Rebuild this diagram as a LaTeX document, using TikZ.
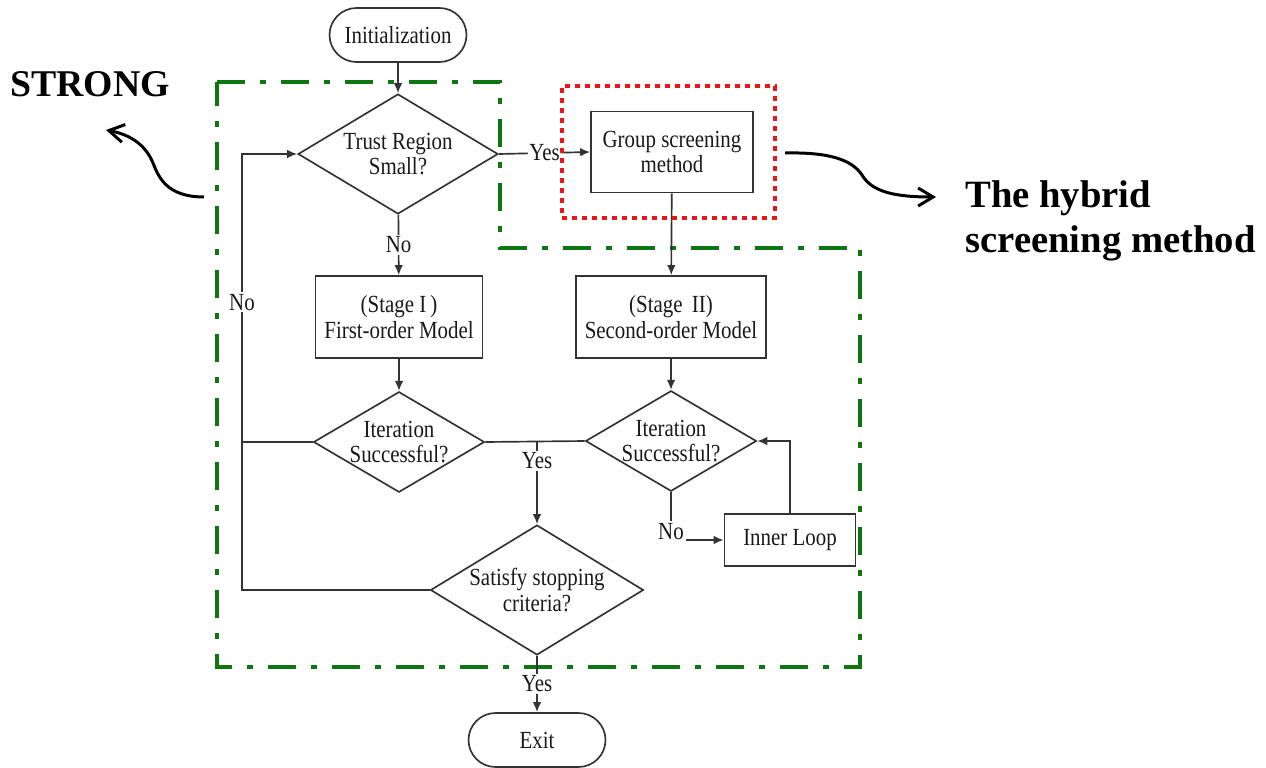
\documentclass[tikz,border=0pt]{standalone}
\usepackage{fontspec}
\setmainfont{Liberation Serif}
\newfontfamily\flowfont[FakeStretch=0.85]{Liberation Serif}
\usepackage{xcolor}
\definecolor{region}{RGB}{14,118,14}
\definecolor{hybrid}{RGB}{232,22,22}
\tikzset{
  every node/.style={
    font=\flowfont\fontsize{14}{14.7}\selectfont, text=black!90
  }
}
\usetikzlibrary{shapes.geometric}
\usetikzlibrary{shapes.misc}
\usetikzlibrary{arrows.meta}
\tikzset{
  flow/.style={draw=black!80, line width=0.95pt},
  arrow/.style={flow, -{Latex[length=2mm,width=1.7mm]}},
  process/.style={flow, rectangle, inner sep=0pt, align=center},
  terminal/.style={flow, rounded rectangle, inner sep=0pt,
    minimum width=2.74cm, minimum height=1.08cm},
  decision/.style={flow, diamond, inner sep=0pt, align=center},
  tag/.style={fill=white, inner sep=1pt},
  outline/.style={draw=region, line width=2.8pt,
    dash pattern=on 0.56cm off 0.3cm on 0.12cm off 0.3cm},
  dotbox/.style={draw=hybrid, line width=2.8pt,
    dash pattern=on 0.1cm off 0.1cm, inner sep=0pt},
  swoop/.style={black, line width=1.7pt,
    -{Straight Barb[length=3mm,width=3.6mm]}},
  callout/.style={font=\rmfamily\bfseries\fontsize{21.5}{25}\selectfont,
    text=black, inner sep=0pt, align=left}
}

\begin{document}
\begin{tikzpicture}[x=0.02cm, y=-0.02cm]
    %\draw[gray, very thin] (0,0) grid[step=50] (1266,767);
    \useasboundingbox (0,0) rectangle (1266,767);

    \draw [outline] (217,82) -- (500,82) -- (500,248) -- (860,248)
        -- (860,667) -- (217,667) -- cycle;

    \node [terminal] (init) at (398,35) {Initialization};
    \node [decision, aspect=1.67, minimum width=4cm, minimum height=2.4cm]
        (trust) at (398,154) {Trust Region\\Small?};
    \node [process, minimum width=3.24cm, minimum height=1.62cm]
        (group) at (672,152) {Group screening\\method};
    \node [process, minimum width=3.34cm, minimum height=1.64cm]
        (stage1) at (399,317) {(Stage I\,)\\First-order Model};
    \node [process, minimum width=3.8cm, minimum height=1.64cm]
        (stage2) at (671,317) {(Stage\, II)\\Second-order Model};
    \node [decision, aspect=1.7, minimum width=3.4cm, minimum height=2cm]
        (iter1) at (399,442) {Iteration\\Successful?};
    \node [decision, aspect=1.7, minimum width=3.4cm, minimum height=2cm]
        (iter2) at (671,441) {Iteration\\Successful?};
    \node [decision, aspect=1.64, minimum width=4.26cm, minimum height=2.6cm]
        (satisfy) at (537,590) {Satisfy stopping\\criteria?};
    \node [process, minimum width=2.62cm, minimum height=1.04cm]
        (inner) at (790,540) {Inner Loop};
    \node [terminal] (exit) at (537,740) {Exit};

    \coordinate (back) at (242,590);

    \draw [arrow] (init) -- (trust);
    \draw [arrow] (trust.east) -- node [tag] {Yes} (group.west);
    \draw [arrow] (trust) -- node [tag] {No} (stage1);
    \draw [arrow] (group) -- (stage2);
    \draw [arrow] (stage1) -- (iter1);
    \draw [arrow] (stage2) -- (iter2);
    \draw [flow] (iter1.east) -- (iter2.west);
    \draw [arrow] (satisfy.north |- iter1.east) -- node [tag, pos=.23] {Yes} (satisfy.north);
    \draw [flow] (iter1.west) -- (iter1.west -| back);
    \draw [arrow] (satisfy.west) -- (back) |- node [tag, pos=.33] {No} (trust.west);
    \draw [arrow] (iter2.south) |- node [tag, pos=.5, yshift=5pt] {No} (inner.west);
    \draw [arrow] (inner.north) |- (iter2.east);
    \draw [arrow] (satisfy) -- node [tag] {Yes} (exit);

    \node [dotbox, minimum width=4.26cm, minimum height=2.64cm]
        (hybridbox) at (668.5,152) {};

    \node [callout, anchor=north west] (strong) at (10,71) {STRONG};
    \node [callout, anchor=north west, font=\rmfamily\bfseries\fontsize{22}{26}\selectfont]
        (hybridtext) at (965,180) {The hybrid\\screening method};

    \coordinate (strongtail) at (204,197);
    \coordinate (strongtip) at (106,130);
    \coordinate (hybridtail) at (785,153);
    \coordinate (hybridtip) at (936,197);
    \draw [swoop] (strongtail) .. controls (165,197) and (158,175) .. (153,163)
        .. controls (146,146) and (132,135) .. (strongtip);
    \draw [swoop] (hybridtail) .. controls (830,152) and (852,160) .. (862,175)
        .. controls (872,192) and (895,197) .. (hybridtip);
\end{tikzpicture}
\end{document}
